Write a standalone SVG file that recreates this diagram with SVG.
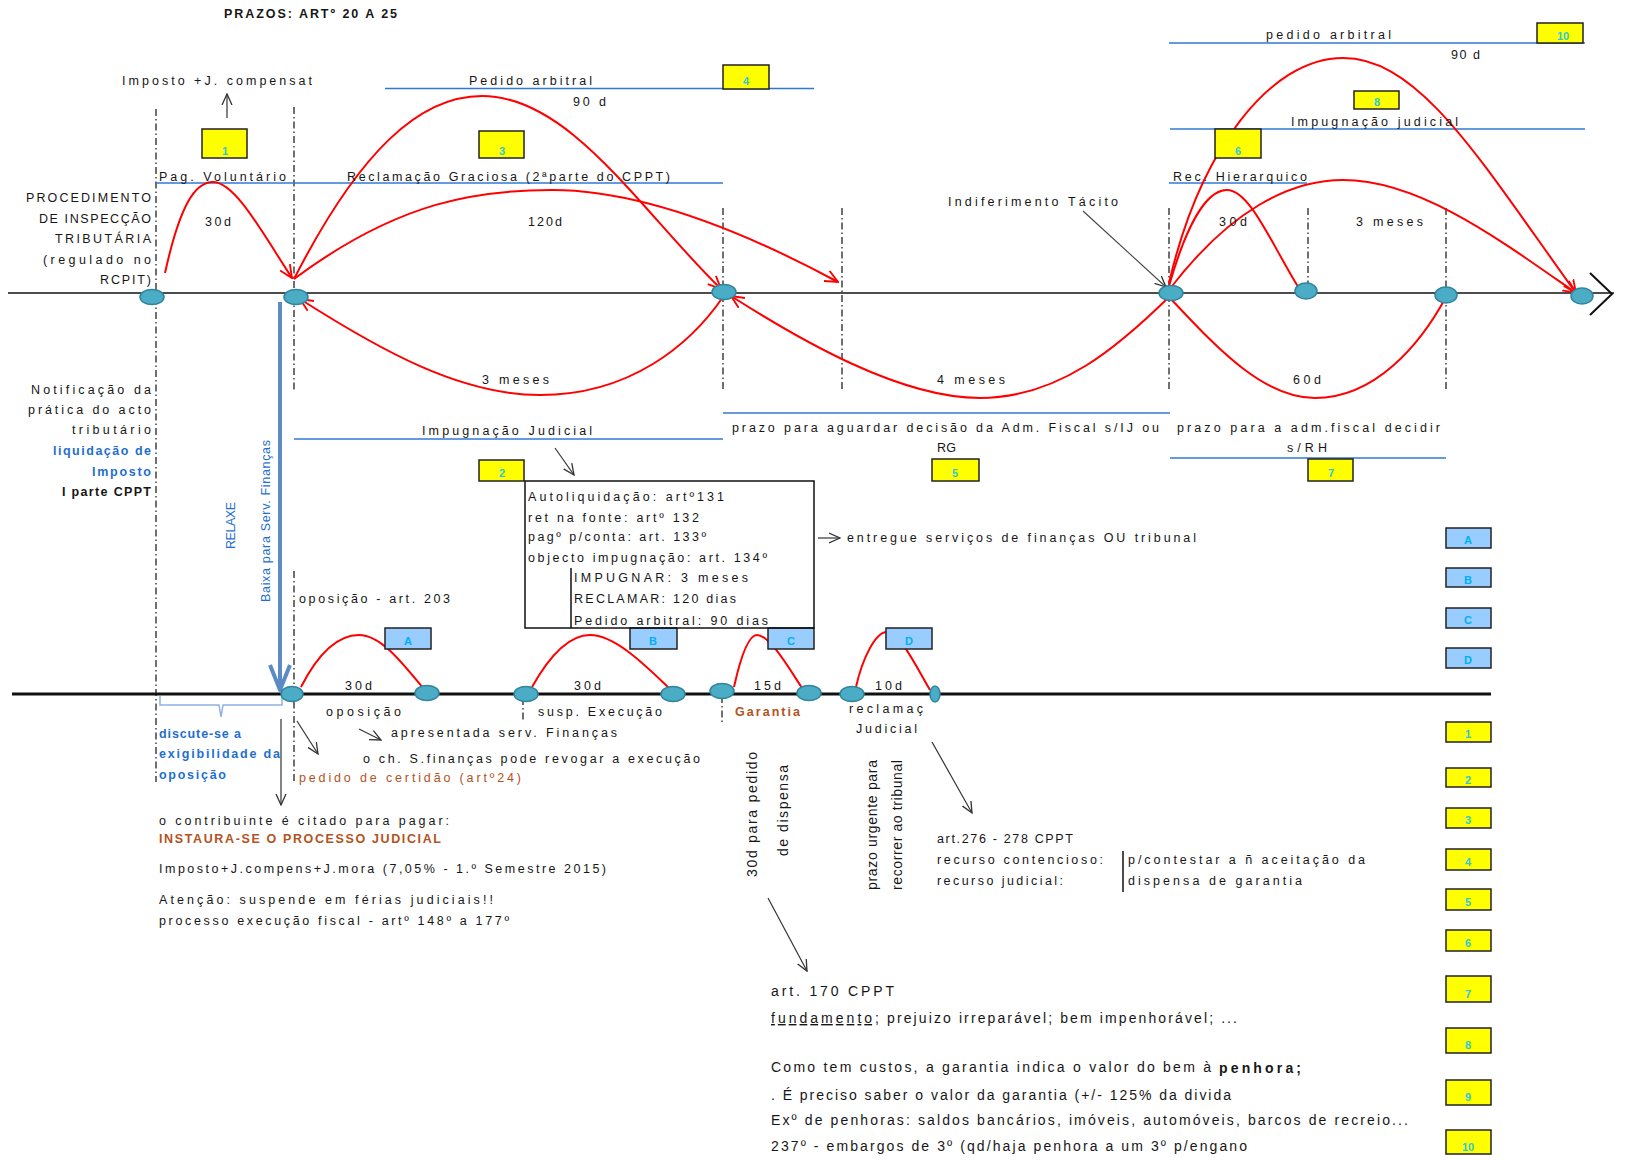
<svg xmlns="http://www.w3.org/2000/svg" width="1633" height="1160" viewBox="0 0 1633 1160">
<style>
.t{font-family:"Liberation Sans",Arial,sans-serif;font-size:12.5px;fill:#161616}
.b{fill:#1F6FD0}
.br{fill:#B4521D}
.bold{font-weight:bold}
.lbl{font-family:"Liberation Sans",Arial,sans-serif;font-size:11px;font-weight:bold;text-anchor:middle}
.yb{fill:#FFFF00;stroke:#222;stroke-width:1.5}
.bb{fill:#99CCFF;stroke:#222;stroke-width:1.5}
.yl{fill:#2EC8D8}
.bl{fill:#00B0F0}
.node{fill:#4BACC6;stroke:#31859C;stroke-width:1.5}
.dd{stroke:#111;stroke-width:1.2;stroke-dasharray:7 3 1.5 3;fill:none}
.hl{stroke:#2F78D6;stroke-width:1.6;fill:none}
.arc{stroke:#FF0000;stroke-width:2;fill:none}
.arr{stroke:#333;stroke-width:1.2;fill:none}
.c{font-family:"Liberation Sans",Arial,sans-serif;font-size:14px;fill:#161616}
</style>
<defs>
<marker id="ahr" viewBox="0 0 12 12" refX="11" refY="6" markerWidth="14" markerHeight="14" markerUnits="userSpaceOnUse" orient="auto"><path d="M0,1 L11,6 L0,11" fill="none" stroke="#FF0000" stroke-width="1.6"/></marker>
<marker id="ahk" viewBox="0 0 12 12" refX="11" refY="6" markerWidth="12" markerHeight="12" markerUnits="userSpaceOnUse" orient="auto"><path d="M0,1 L11,6 L0,11" fill="none" stroke="#333" stroke-width="1.3"/></marker>
</defs>
<rect width="1633" height="1160" fill="#fff"/>

<g id="title"><text class="t bold" x="224" y="18" font-size="11" textLength="173" lengthAdjust="spacing">PRAZOS: ARTº 20 A 25</text></g>

<g id="guides">
<line class="dd" x1="156" y1="109" x2="156" y2="782"/>
<line class="dd" x1="294" y1="107" x2="294" y2="390"/>
<line class="dd" x1="294" y1="571" x2="294" y2="782"/>
<line class="dd" x1="723" y1="208" x2="723" y2="390"/>
<line class="dd" x1="842" y1="208" x2="842" y2="390"/>
<line class="dd" x1="1169" y1="208" x2="1169" y2="390"/>
<line class="dd" x1="1308" y1="208" x2="1308" y2="297"/>
<line class="dd" x1="1446" y1="208" x2="1446" y2="390"/>
<line class="dd" x1="722" y1="696" x2="722" y2="722"/>
<line class="dd" x1="523" y1="698" x2="523" y2="720"/>
</g>

<g id="spans">
<line class="hl" x1="156" y1="183" x2="723" y2="183"/>
<line class="hl" x1="385" y1="88.5" x2="814" y2="88.5"/>
<line class="hl" x1="1169" y1="43" x2="1585" y2="43"/>
<line class="hl" x1="1170" y1="129" x2="1585" y2="129"/>
<line class="hl" x1="1169" y1="183" x2="1307" y2="183"/>
<line class="hl" x1="294" y1="439" x2="723" y2="439"/>
<line class="hl" x1="723" y1="413" x2="1170" y2="413"/>
<line class="hl" x1="1170" y1="458" x2="1446" y2="458"/>
</g>

<g id="axes">
<line x1="8" y1="293" x2="1614" y2="293" stroke="#111" stroke-width="1.5"/>
<path d="M1590,273 L1612,294 L1590,315" fill="none" stroke="#111" stroke-width="2"/>
<line x1="12" y1="694" x2="1491" y2="694" stroke="#111" stroke-width="3"/>
</g>

<g id="connectors">
<path class="arc" d="M165,273 C180,205 195,182 213,182 C235,182 262,232 292,278" marker-end="url(#ahr)"/>
<path class="arc" d="M294,279 C360,150 420,96 482,96 C570,96 640,210 721,289" marker-end="url(#ahr)"/>
<path class="arc" d="M294,279 C400,200 480,190 552,190 C650,190 760,240 838,282" marker-end="url(#ahr)"/>
<path class="arc" d="M723,297 C690,345 630,395 540,395 C460,395 380,350 300,299" marker-end="url(#ahr)"/>
<path class="arc" d="M1169,297 C1120,345 1060,398 980,398 C900,398 800,340 731,296" marker-end="url(#ahr)"/>
<path class="arc" d="M1446,297 C1420,345 1375,398 1315,398 C1260,398 1210,340 1169,297"/>
<path class="arc" d="M1169,286 C1185,230 1205,190 1227,190 C1250,190 1272,245 1300,290"/>
<path class="arc" d="M1169,290 C1230,210 1290,180 1343,180 C1420,180 1500,240 1576,293" marker-end="url(#ahr)"/>
<path class="arc" d="M1169,283 C1200,150 1270,58 1343,58 C1420,58 1480,160 1576,293" marker-end="url(#ahr)"/>
<path class="arc" d="M301,687 C320,650 340,635 359,635 C380,635 400,660 423,688"/>
<path class="arc" d="M532,687 C550,655 570,635 590,635 C615,635 645,665 669,688"/>
<path class="arc" d="M734,687 C740,660 748,635 757,635 C770,635 790,670 802,688"/>
<path class="arc" d="M856,687 C862,660 875,632 887,632 C900,632 918,670 930,690"/>
<line class="arr" x1="227" y1="118" x2="227" y2="94" marker-end="url(#ahk)"/>
<line x1="1083" y1="211" x2="1166" y2="287" stroke="#444" stroke-width="1.1" marker-end="url(#ahk)"/>
<line class="arr" x1="555" y1="448" x2="574" y2="475" marker-end="url(#ahk)"/>
<line class="arr" x1="818" y1="538" x2="840" y2="538" marker-end="url(#ahk)"/>
<line class="arr" x1="297" y1="721" x2="318" y2="754" marker-end="url(#ahk)"/>
<line class="arr" x1="359" y1="729" x2="381" y2="740" marker-end="url(#ahk)"/>
<line class="arr" x1="281" y1="719" x2="281" y2="805" marker-end="url(#ahk)"/>
<line class="arr" x1="932" y1="742" x2="972" y2="813" marker-end="url(#ahk)"/>
<line class="arr" x1="768" y1="898" x2="807" y2="971" marker-end="url(#ahk)"/>
<line x1="280" y1="302" x2="280" y2="688" stroke="#5B8AC6" stroke-width="4"/>
<path d="M270,665 L280,690 L290,665" fill="none" stroke="#5B8AC6" stroke-width="4" stroke-linejoin="round"/>
<path d="M160,696 L160,705 L219,705 L221,717 L223,705 L282,705 L282,696" fill="none" stroke="#8DB3E2" stroke-width="1.5"/>
</g>

<g id="nodes-top">
<ellipse class="node" cx="152" cy="297" rx="12" ry="7.5"/>
<ellipse class="node" cx="296" cy="297" rx="12" ry="7.5"/>
<ellipse class="node" cx="724" cy="292" rx="12" ry="7.5"/>
<ellipse class="node" cx="1171" cy="293" rx="12" ry="7.5"/>
<ellipse class="node" cx="1306" cy="291" rx="11" ry="8"/>
<ellipse class="node" cx="1446" cy="295" rx="11" ry="8"/>
<ellipse class="node" cx="1582" cy="296" rx="11" ry="8"/>
</g>
<g id="nodes-bottom">
<ellipse class="node" cx="292" cy="694" rx="11" ry="7.5"/>
<ellipse class="node" cx="427" cy="693" rx="12" ry="7.5"/>
<ellipse class="node" cx="526" cy="694" rx="12" ry="7.5"/>
<ellipse class="node" cx="673" cy="694" rx="12" ry="7.5"/>
<ellipse class="node" cx="722" cy="691" rx="12" ry="7.5"/>
<ellipse class="node" cx="809" cy="693" rx="12" ry="7.5"/>
<ellipse class="node" cx="852" cy="694" rx="12" ry="7.5"/>
<ellipse class="node" cx="935" cy="694" rx="5" ry="8"/>
</g>

<g id="box-1"><rect class="yb" x="202" y="129" width="45" height="29"/><text class="lbl yl" x="225" y="155">1</text></g>
<g id="box-3"><rect class="yb" x="479" y="131" width="45" height="27"/><text class="lbl yl" x="502" y="155">3</text></g>
<g id="box-4"><rect class="yb" x="723" y="65" width="46" height="24"/><text class="lbl yl" x="746" y="85">4</text></g>
<g id="box-10t"><rect class="yb" x="1537" y="23" width="46" height="20"/><text class="lbl yl" x="1563" y="40">10</text></g>
<g id="box-8t"><rect class="yb" x="1354" y="91" width="45" height="18"/><text class="lbl yl" x="1377" y="106">8</text></g>
<g id="box-6t"><rect class="yb" x="1215" y="129" width="46" height="29"/><text class="lbl yl" x="1238" y="155">6</text></g>
<g id="box-2"><rect class="yb" x="479" y="460" width="45" height="21"/><text class="lbl yl" x="502" y="477">2</text></g>
<g id="box-5"><rect class="yb" x="932" y="459" width="47" height="22"/><text class="lbl yl" x="955" y="477">5</text></g>
<g id="box-7"><rect class="yb" x="1308" y="459" width="45" height="22"/><text class="lbl yl" x="1331" y="477">7</text></g>

<g id="box-A"><rect class="bb" x="385" y="628" width="46" height="21"/><text class="lbl bl" x="408" y="645">A</text></g>
<g id="box-B"><rect class="bb" x="630" y="628" width="47" height="21"/><text class="lbl bl" x="653" y="645">B</text></g>
<g id="box-C"><rect class="bb" x="768" y="628" width="46" height="21"/><text class="lbl bl" x="791" y="645">C</text></g>
<g id="box-D"><rect class="bb" x="886" y="628" width="46" height="21"/><text class="lbl bl" x="909" y="645">D</text></g>

<g id="legend">
<rect class="bb" x="1446" y="528" width="45" height="20"/><text class="lbl bl" x="1468" y="544">A</text>
<rect class="bb" x="1446" y="568" width="45" height="19"/><text class="lbl bl" x="1468" y="584">B</text>
<rect class="bb" x="1446" y="608" width="45" height="20"/><text class="lbl bl" x="1468" y="624">C</text>
<rect class="bb" x="1446" y="648" width="45" height="20"/><text class="lbl bl" x="1468" y="664">D</text>
<rect class="yb" x="1446" y="722" width="45" height="20"/><text class="lbl yl" x="1468" y="738">1</text>
<rect class="yb" x="1446" y="768" width="45" height="19"/><text class="lbl yl" x="1468" y="784">2</text>
<rect class="yb" x="1446" y="808" width="45" height="20"/><text class="lbl yl" x="1468" y="824">3</text>
<rect class="yb" x="1446" y="849" width="45" height="21"/><text class="lbl yl" x="1468" y="866">4</text>
<rect class="yb" x="1446" y="889" width="45" height="21"/><text class="lbl yl" x="1468" y="906">5</text>
<rect class="yb" x="1446" y="930" width="45" height="21"/><text class="lbl yl" x="1468" y="947">6</text>
<rect class="yb" x="1446" y="976" width="45" height="26"/><text class="lbl yl" x="1468" y="998">7</text>
<rect class="yb" x="1446" y="1028" width="45" height="25"/><text class="lbl yl" x="1468" y="1049">8</text>
<rect class="yb" x="1446" y="1080" width="45" height="25"/><text class="lbl yl" x="1468" y="1101">9</text>
<rect class="yb" x="1446" y="1130" width="45" height="24"/><text class="lbl yl" x="1468" y="1151">10</text>
</g>

<g id="box-summary">
<rect x="525" y="481" width="289" height="147" fill="none" stroke="#111" stroke-width="1.5"/>
<line x1="571" y1="568" x2="571" y2="628" stroke="#111" stroke-width="1.5"/>
<text class="t" x="528" y="501" textLength="196" lengthAdjust="spacing">Autoliquidação: artº131</text>
<text class="t" x="528" y="522" textLength="171" lengthAdjust="spacing">ret na fonte: artº 132</text>
<text class="t" x="528" y="541" textLength="178" lengthAdjust="spacing">pagº p/conta: art. 133º</text>
<text class="t" x="528" y="562" textLength="239" lengthAdjust="spacing">objecto impugnação: art. 134º</text>
<text class="t" x="574" y="582" textLength="174" lengthAdjust="spacing">IMPUGNAR:  3 meses</text>
<text class="t" x="574" y="603" textLength="162" lengthAdjust="spacing">RECLAMAR: 120 dias</text>
<text class="t" x="574" y="625" textLength="194" lengthAdjust="spacing">Pedido arbitral: 90 dias</text>
</g>

<g id="labels-top">
<text class="t" x="122" y="85" textLength="190" lengthAdjust="spacing">Imposto +J. compensat</text>
<text class="t" x="159" y="181" textLength="127" lengthAdjust="spacing">Pag. Voluntário</text>
<text class="t" x="347" y="181" textLength="323" lengthAdjust="spacing">Reclamação Graciosa (2ªparte do CPPT)</text>
<text class="t" x="469" y="85" textLength="123" lengthAdjust="spacing">Pedido arbitral</text>
<text class="t" x="573" y="106" textLength="33" lengthAdjust="spacing">90 d</text>
<text class="t" x="528" y="226" textLength="34" lengthAdjust="spacing">120d</text>
<text class="t" x="205" y="226" textLength="26" lengthAdjust="spacing">30d</text>
<g text-anchor="end">
<text class="t" x="151" y="202" textLength="125" lengthAdjust="spacing">PROCEDIMENTO</text>
<text class="t" x="151" y="223" textLength="112" lengthAdjust="spacing">DE INSPECÇÃO</text>
<text class="t" x="151" y="243" textLength="96" lengthAdjust="spacing">TRIBUTÁRIA</text>
<text class="t" x="151" y="264" textLength="108" lengthAdjust="spacing">(regulado no</text>
<text class="t" x="151" y="284" textLength="51" lengthAdjust="spacing">RCPIT)</text>
</g>
<text class="t" x="948" y="206" textLength="170" lengthAdjust="spacing">Indiferimento Tácito</text>
<text class="t" x="1266" y="39" textLength="125" lengthAdjust="spacing">pedido arbitral</text>
<text class="t" x="1451" y="59" textLength="29" lengthAdjust="spacing">90 d</text>
<text class="t" x="1291" y="126" textLength="167" lengthAdjust="spacing">Impugnação judicial</text>
<text class="t" x="1173" y="181" textLength="134" lengthAdjust="spacing">Rec. Hierarquico</text>
<text class="t" x="1219" y="226" textLength="28" lengthAdjust="spacing">30d</text>
<text class="t" x="1356" y="226" textLength="67" lengthAdjust="spacing">3 meses</text>
<text class="t" x="482" y="384" textLength="67" lengthAdjust="spacing">3 meses</text>
<text class="t" x="937" y="384" textLength="68" lengthAdjust="spacing">4 meses</text>
<text class="t" x="1293" y="384" textLength="28" lengthAdjust="spacing">60d</text>
<text class="t" x="422" y="435" textLength="170" lengthAdjust="spacing">Impugnação Judicial</text>
<text class="t" x="732" y="432" textLength="427" lengthAdjust="spacing">prazo para aguardar decisão da Adm. Fiscal s/IJ ou</text>
<text class="t" x="937" y="452" textLength="19" lengthAdjust="spacing">RG</text>
<text class="t" x="1177" y="432" textLength="263" lengthAdjust="spacing">prazo para a adm.fiscal decidir</text>
<text class="t" x="1287" y="452" textLength="40" lengthAdjust="spacing">s/RH</text>
<text class="t" x="847" y="542" textLength="349" lengthAdjust="spacing">entregue serviços de finanças OU tribunal</text>
</g>

<g id="labels-left" text-anchor="end">
<text class="t" x="151" y="394" textLength="120" lengthAdjust="spacing">Notificação da</text>
<text class="t" x="151" y="414" textLength="123" lengthAdjust="spacing">prática do acto</text>
<text class="t" x="151" y="434" textLength="79" lengthAdjust="spacing">tributário</text>
<text class="t b bold" x="151" y="455" textLength="98" lengthAdjust="spacing">liquidação de</text>
<text class="t b bold" x="151" y="476" textLength="59" lengthAdjust="spacing">Imposto</text>
<text class="t bold" x="151" y="496" textLength="89" lengthAdjust="spacing">I parte CPPT</text>
</g>

<g id="labels-vertical">
<text class="t b" font-size="11" transform="translate(235,549) rotate(-90)" textLength="47" lengthAdjust="spacing">RELAXE</text>
<text class="t b" font-size="11" transform="translate(270,602) rotate(-90)" textLength="162" lengthAdjust="spacing">Baixa para Serv. Finanças</text>
<text class="c" font-size="16" transform="translate(757,877) rotate(-90)" textLength="125" lengthAdjust="spacing">30d para pedido</text>
<text class="c br" font-size="16" transform="translate(788,856) rotate(-90)" textLength="91" lengthAdjust="spacing">de dispensa</text>
<text class="c" font-size="12.5" transform="translate(877,890) rotate(-90)" textLength="130" lengthAdjust="spacing">prazo urgente para</text>
<text class="c" font-size="12.5" transform="translate(902,890) rotate(-90)" textLength="130" lengthAdjust="spacing">recorrer ao tribunal</text>
</g>

<g id="labels-bottom">
<text class="t" x="299" y="603" textLength="151" lengthAdjust="spacing">oposição - art. 203</text>
<text class="t" x="345" y="690" textLength="27" lengthAdjust="spacing">30d</text>
<text class="t" x="574" y="690" textLength="27" lengthAdjust="spacing">30d</text>
<text class="t" x="754" y="690" textLength="27" lengthAdjust="spacing">15d</text>
<text class="t" x="875" y="690" textLength="27" lengthAdjust="spacing">10d</text>
<text class="t" x="326" y="716" textLength="75" lengthAdjust="spacing">oposição</text>
<text class="t" x="538" y="716" textLength="124" lengthAdjust="spacing">susp. Execução</text>
<text class="t br bold" x="735" y="716" textLength="65" lengthAdjust="spacing">Garantia</text>
<text class="t" x="849" y="713" textLength="74" lengthAdjust="spacing">reclamaç</text>
<text class="t" x="856" y="733" textLength="61" lengthAdjust="spacing">Judicial</text>
<text class="t b bold" x="159" y="738" textLength="82" lengthAdjust="spacing">discute-se a</text>
<text class="t b bold" x="159" y="758" textLength="121" lengthAdjust="spacing">exigibilidade da</text>
<text class="t b bold" x="159" y="779" textLength="67" lengthAdjust="spacing">oposição</text>
<text class="t" x="391" y="737" textLength="226" lengthAdjust="spacing">apresentada serv. Finanças</text>
<text class="t" x="363" y="763" textLength="337" lengthAdjust="spacing">o ch. S.finanças pode revogar a execução</text>
<text class="t br" x="299" y="782" textLength="222" lengthAdjust="spacing">pedido de certidão (artº24)</text>
<text class="t" x="159" y="825" textLength="290" lengthAdjust="spacing">o contribuinte é citado para pagar:</text>
<text class="t br bold" x="159" y="843" textLength="282" lengthAdjust="spacing">INSTAURA-SE O PROCESSO JUDICIAL</text>
<text class="t" x="159" y="873" textLength="447" lengthAdjust="spacing">Imposto+J.compens+J.mora (7,05% - 1.º Semestre 2015)</text>
<text class="t" x="159" y="904" textLength="334" lengthAdjust="spacing">Atenção: suspende em férias judiciais!!</text>
<text class="t" x="159" y="925" textLength="350" lengthAdjust="spacing">processo execução fiscal - artº 148º a 177º</text>
<text class="t" x="937" y="843" textLength="136" lengthAdjust="spacing">art.276 - 278 CPPT</text>
<text class="t" x="937" y="864" textLength="166" lengthAdjust="spacing">recurso contencioso:</text>
<text class="t" x="937" y="885" textLength="126" lengthAdjust="spacing">recurso judicial:</text>
<line x1="1123" y1="851" x2="1123" y2="892" stroke="#111" stroke-width="1.5"/>
<text class="t" x="1128" y="864" textLength="237" lengthAdjust="spacing">p/contestar a ñ aceitação da</text>
<text class="t" x="1128" y="885" textLength="174" lengthAdjust="spacing">dispensa de garantia</text>
<text class="c" font-size="16" x="771" y="996" textLength="123" lengthAdjust="spacing">art. 170 CPPT</text>
<text class="c" x="771" y="1023" textLength="108" lengthAdjust="spacing" text-decoration="underline">fundamento;</text>
<text class="c" x="887" y="1023" textLength="350" lengthAdjust="spacing">prejuizo irreparável; bem impenhorável; ...</text>
<text class="c" x="771" y="1072" textLength="440" lengthAdjust="spacing">Como tem custos, a garantia indica o valor do bem à</text>
<text class="c" font-size="17" font-weight="bold" x="1219" y="1073" textLength="82" lengthAdjust="spacing">penhora;</text>
<text class="c" x="771" y="1100" textLength="460" lengthAdjust="spacing">. É preciso saber o valor da garantia (+/- 125% da divida</text>
<text class="c" x="771" y="1125" textLength="637" lengthAdjust="spacing">Exº de penhoras: saldos bancários, imóveis, automóveis, barcos de recreio...</text>
<text class="c" x="771" y="1151" textLength="476" lengthAdjust="spacing">237º - embargos de 3º (qd/haja penhora a um 3º p/engano</text>
</g>
</svg>
